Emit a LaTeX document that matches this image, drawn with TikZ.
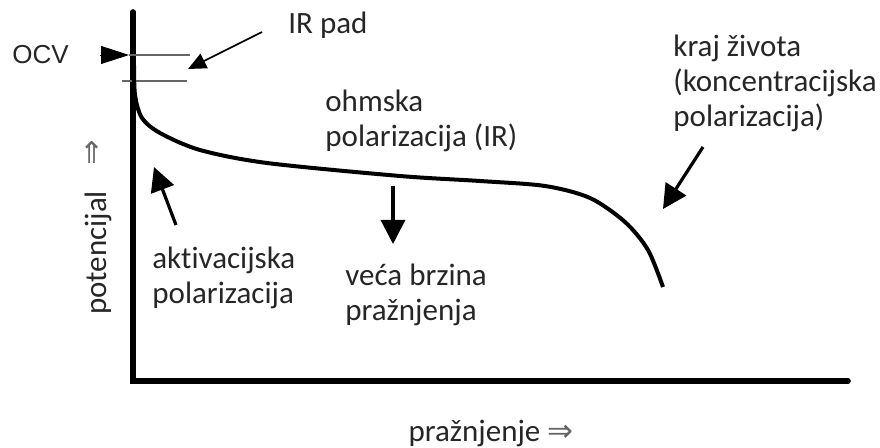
\documentclass[tikz,border=0pt]{standalone}
\usepackage{fontspec}
\setmainfont[Ligatures={NoCommon,NoContextual}]{Carlito}
\newfontfamily\ocvfont{Liberation Sans}
\newfontfamily\arrowfont{DejaVu Sans}
\usetikzlibrary{arrows.meta}
\tikzset{
  labeltext/.style={anchor=west, align=left, inner sep=0pt,
    font=\fontsize{15.5}{17.5}\selectfont, text=black!85},
  axisline/.style={line width=2.8pt, line cap=round},
  curveline/.style={line width=2pt},
  pointer/.style={line width=1.6pt, -{Triangle[length=12pt,width=12pt]}},
  thinpointer/.style={line width=0.8pt, -{Triangle[length=9pt,width=8pt]}},
  levelline/.style={line width=0.8pt, black!60},
}

\begin{document}
\begin{tikzpicture}[x=0.5pt, y=-0.5pt]
    \useasboundingbox (0,0) rectangle (880,448);
    % axes
    \coordinate (top) at (133,12);
    \coordinate (origin) at (133,381);
    \coordinate (right) at (848,381);
    \draw[axisline] (top) -- (origin) -- (right);
    % OCV and IR drop
    \node[labeltext, font=\fontsize{13}{15}\selectfont\ocvfont] (ocv) at (12,55) {OCV};
    \coordinate (ocvtail) at (100,55);
    \coordinate (ocvtip) at (129,55);
    \draw[-{Triangle[length=14pt,width=9pt]}] (ocvtail) -- (ocvtip);
    \coordinate (ocvlevel) at (190,55);
    \coordinate (irleft) at (122,81);
    \coordinate (irright) at (187,81);
    \draw[levelline] (ocvtip) -- (ocvlevel);
    \draw[levelline] (irleft) -- (irright);
    \node[labeltext] (irpad) at (288,25) {IR pad};
    \coordinate (irtail) at (262,32);
    \coordinate (irtip) at (188,69);
    \draw[thinpointer] (irtail) -- (irtip);
    % discharge curve
    \draw[curveline] plot[smooth, tension=0.5] coordinates {
      (134,62) (135,95) (142,118) (160,133) (200,150) (267,163)
      (400,176) (480,181) (545,186) (590,198) (625,222) (648,250) (663,287)};
    % labels and arrows
    \node[labeltext] (aktiv) at (152,278) {aktivacijska\\polarizacija};
    \coordinate (akttail) at (176,225);
    \coordinate (akttip) at (154,167);
    \draw[pointer] (akttail) -- (akttip);
    \node[labeltext] (ohm) at (325,121) {ohmska\\polarizacija (IR)};
    \node[labeltext] (brzina) at (345,295) {veća brzina\\pražnjenja};
    \coordinate (brzinatail) at (393,186);
    \coordinate (brzinatip) at (393,244);
    \draw[pointer] (brzinatail) -- (brzinatip);
    \node[labeltext] (kraj) at (673,83) {kraj života\\(koncentracijska\\polarizacija)};
    \coordinate (krajtail) at (703,147);
    \coordinate (krajtip) at (663,209);
    \draw[pointer] (krajtail) -- (krajtip);
    % axis titles
    \node[labeltext, anchor=center, rotate=90] (potencijal) at (98,253) {potencijal};
    \node[labeltext, anchor=center, text=black!60, font=\fontsize{15}{17}\selectfont\arrowfont] (uparrow) at (92,153) {⇑};
    \node[labeltext, anchor=center] (praznjenje) at (491,433) {pražnjenje {\arrowfont\color{black!60}⇒}};
\end{tikzpicture}
\end{document}
